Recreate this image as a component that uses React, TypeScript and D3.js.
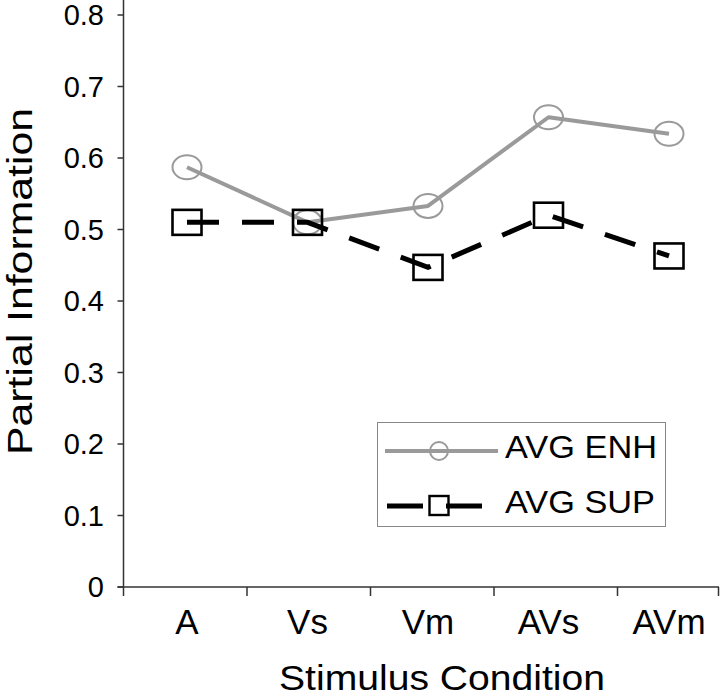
import React from "react";
import * as d3 from "d3";

const categories = ["A", "Vs", "Vm", "AVs", "AVm"];
const enhValues = [0.587, 0.51, 0.533, 0.657, 0.634];
const supValues = [0.51, 0.51, 0.447, 0.52, 0.463];
const yTicks = [0, 0.1, 0.2, 0.3, 0.4, 0.5, 0.6, 0.7, 0.8];
const seriesNames = ["AVG ENH", "AVG SUP"];
const xTitle = "Stimulus Condition";
const yTitle = "Partial Information";

const W = 720;
const H = 698;
const FONT = "'Liberation Sans', Arial, Helvetica, sans-serif";

export default function App() {
  const axisX = 123.5;
  const axisY = 587;
  const axisRight = 719;

  const y = d3.scaleLinear().domain([0, 0.8]).range([axisY, 15]);
  const xBand = d3.scaleBand().domain(categories).range([axisX, axisX + 5 * 123.5]).padding(0);
  const xPt = d3.scalePoint().domain(categories).range([187, 669]);

  const enhData = categories.map((c, i) => ({ c, v: enhValues[i] }));
  const supData = categories.map((c, i) => ({ c, v: supValues[i] }));

  const line = d3
    .line<{ c: string; v: number }>()
    .x((d) => xPt(d.c) as number)
    .y((d) => y(d.v));

  const gray = "#9a9a9a";

  const boundaryTicks = categories.slice(1).map((c) => xBand(c) as number).filter((v) => v < axisRight);

  return (
    <svg
      width={W}
      height={H}
      style={{ position: "absolute", left: 0, top: 0, background: "#fff" }}
      fontFamily={FONT}
    >
      <rect x={0} y={0} width={W} height={H} fill="#fff" />
      {/* y axis */}
      <line x1={axisX} y1={0} x2={axisX} y2={axisY} stroke="#333" strokeWidth={1.5} />
      {yTicks.map((t) => (
        <g key={t}>
          <line x1={axisX - 6} x2={axisX} y1={y(t)} y2={y(t)} stroke="#333" strokeWidth={1.5} />
          <text
            x={104}
            y={y(t)}
            dy="0.36em"
            textAnchor="end"
            fontSize={29}
            fill="#000"
          >
            {t === 0 ? "0" : d3.format(".1f")(t)}
          </text>
        </g>
      ))}
      {/* x axis */}
      <line x1={axisX - 6} y1={axisY} x2={axisRight} y2={axisY} stroke="#333" strokeWidth={1.5} />
      {[axisX, ...boundaryTicks, axisRight - 0.5].map((xv, i) => (
        <line key={i} x1={xv} x2={xv} y1={axisY} y2={axisY + 9} stroke="#333" strokeWidth={1.5} />
      ))}
      {categories.map((c) => (
        <text key={c} x={xPt(c) as number} y={634} textAnchor="middle" fontSize={35} fill="#000">
          {c}
        </text>
      ))}
      {/* titles */}
      <text
        x={442}
        y={690}
        textAnchor="middle"
        fontSize={35}
        fill="#000"
        textLength={326}
        lengthAdjust="spacingAndGlyphs"
      >
        {xTitle}
      </text>
      <text
        transform={`translate(32,${(108 + 455) / 2}) rotate(-90)`}
        textAnchor="middle"
        fontSize={35}
        fill="#000"
        textLength={347}
        lengthAdjust="spacingAndGlyphs"
      >
        {yTitle}
      </text>

      {/* ENH series */}
      <path d={line(enhData) || ""} fill="none" stroke={gray} strokeWidth={4} strokeLinejoin="round" />
      {enhData.map((d) => (
        <ellipse
          key={d.c}
          cx={xPt(d.c) as number}
          cy={y(d.v)}
          rx={14.5}
          ry={12}
          fill="none"
          stroke={gray}
          strokeWidth={2}
        />
      ))}
      {/* SUP series */}
      <path
        d={line(supData) || ""}
        fill="none"
        stroke="#000"
        strokeWidth={5}
        strokeDasharray="32 23"
      />
      {supData.map((d) => (
        <rect
          key={d.c}
          x={(xPt(d.c) as number) - 14.5}
          y={y(d.v) - 12.5}
          width={29}
          height={25}
          fill="none"
          stroke="#000"
          strokeWidth={2.6}
        />
      ))}

      {/* legend */}
      <rect x={377.5} y={422.5} width={288} height={104} fill="#fff" stroke="#888" strokeWidth={1} />
      <line x1={385} x2={498} y1={451} y2={451} stroke={gray} strokeWidth={4} />
      <circle cx={439} cy={451} r={9} fill="none" stroke={gray} strokeWidth={2} />
      <text x={505} y={457.5} fontSize={31} fill="#000" textLength={152} lengthAdjust="spacingAndGlyphs">
        {seriesNames[0]}
      </text>
      <line x1={387} x2={423} y1={506} y2={506} stroke="#000" strokeWidth={5} />
      <line x1={446} x2={482} y1={506} y2={506} stroke="#000" strokeWidth={5} />
      <rect x={429.5} y={496} width={19} height={19} fill="none" stroke="#000" strokeWidth={2.4} />
      <text x={505} y={512.5} fontSize={31} fill="#000" textLength={150} lengthAdjust="spacingAndGlyphs">
        {seriesNames[1]}
      </text>
    </svg>
  );
}
